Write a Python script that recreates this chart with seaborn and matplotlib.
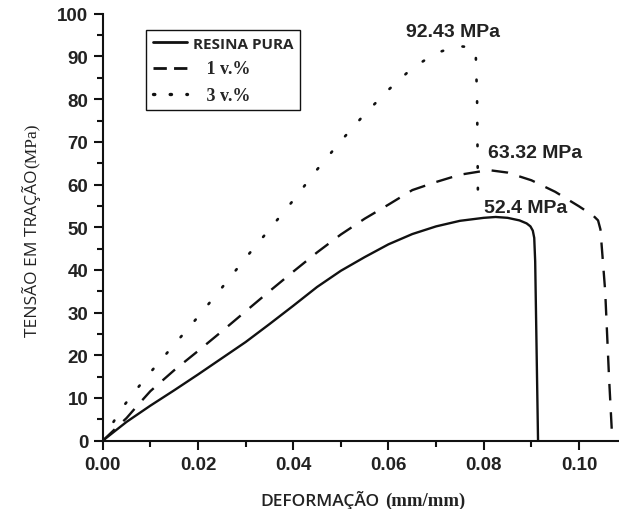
import matplotlib
matplotlib.use('Agg')
import matplotlib.pyplot as plt
import seaborn as sns
from matplotlib.lines import Line2D
from matplotlib.ticker import MultipleLocator, FormatStrFormatter

# curve vertices: strain (mm/mm), stress (MPa)
resina_x = [0.0, 0.005, 0.010, 0.015, 0.020, 0.025, 0.030, 0.035, 0.040, 0.045,
            0.050, 0.055, 0.060, 0.065, 0.070, 0.075, 0.080, 0.0825, 0.085, 0.0875,
            0.0890, 0.0898, 0.0903, 0.0906, 0.0908, 0.0914]
resina_y = [0.0, 4.4, 8.2, 11.8, 15.5, 19.3, 23.1, 27.3, 31.6, 36.0,
            39.8, 43.0, 46.0, 48.4, 50.2, 51.5, 52.2, 52.4, 52.2, 51.6,
            50.9, 50.2, 49.2, 47.5, 42.0, 0.0]

v1_x = [0.0, 0.005, 0.0075, 0.010, 0.015, 0.020, 0.025, 0.030, 0.035, 0.040, 0.045,
        0.050, 0.055, 0.060, 0.065, 0.070, 0.075, 0.080, 0.0815, 0.085, 0.090,
        0.095, 0.100, 0.1030, 0.1040, 0.1045, 0.1055, 0.1063, 0.1070]
v1_y = [0.0, 5.3, 8.5, 11.6, 16.5, 21.0, 25.6, 30.3, 35.0, 39.6, 44.1,
        48.3, 52.0, 55.3, 58.7, 60.6, 62.3, 63.2, 63.32, 62.8, 61.0,
        58.3, 54.9, 52.7, 51.6, 49.5, 35.0, 15.0, 0.0]

v3_x = [0.0, 0.0022, 0.0043, 0.0070, 0.010, 0.015, 0.020, 0.025, 0.030, 0.035,
        0.040, 0.045, 0.050, 0.055, 0.060, 0.065, 0.070, 0.0745, 0.0770, 0.0783,
        0.0786, 0.0788]
v3_y = [0.0, 4.3, 8.0, 11.9, 16.0, 22.5, 29.0, 35.8, 42.8, 49.5,
        56.3, 63.5, 70.2, 76.5, 82.2, 87.3, 90.8, 92.43, 92.2, 91.4,
        80.0, 55.0]

labels = ['RESINA PURA', '1 v.%', '3 v.%']
peaks = ['52.4 MPa', '63.32 MPa', '92.43 MPa']
peak_pos = [(0.0800, 53.5), (0.0808, 66.4), (0.0636, 94.9)]

sns.set_style('ticks')
fig = plt.figure(figsize=(6.19, 5.10), dpi=100)
ax = fig.add_axes([0.166, 0.134, 0.834, 0.837])

ink = '#111111'
dash = (0, (7.0, 5.0))
dot = (0, (0.6, 7.6))
sns.lineplot(x=resina_x, y=resina_y, ax=ax, color=ink, lw=1.7, sort=False,
             estimator=None)
sns.lineplot(x=v1_x, y=v1_y, ax=ax, color=ink, lw=1.7, sort=False, estimator=None,
             linestyle=dash)
sns.lineplot(x=v3_x, y=v3_y, ax=ax, color=ink, lw=1.9, sort=False, estimator=None,
             linestyle=dot, dash_capstyle='round')

ax.set_xlim(0, 0.1084)
ax.set_ylim(0, 100)
ax.xaxis.set_major_locator(MultipleLocator(0.02))
ax.xaxis.set_minor_locator(MultipleLocator(0.01))
ax.yaxis.set_major_locator(MultipleLocator(10))
ax.yaxis.set_minor_locator(MultipleLocator(5))
ax.xaxis.set_major_formatter(FormatStrFormatter('%.2f'))
sns.despine(ax=ax)
for s in ['left', 'bottom']:
    ax.spines[s].set_linewidth(1.5)
    ax.spines[s].set_color(ink)
ax.tick_params(which='major', direction='out', length=6.5, width=1.5, color=ink)
ax.tick_params(which='minor', direction='out', length=4, width=1.5, color=ink)
ax.tick_params(axis='x', which='major', pad=4.5)
ax.tick_params(axis='y', which='major', pad=4)
for t in ax.get_xticklabels() + ax.get_yticklabels():
    t.set_fontfamily('Liberation Sans')
    t.set_fontweight('bold')
    t.set_fontsize(13.5)
    t.set_color('#222222')
ax.set_xlabel('')
ax.set_ylabel('')

for txt, (px, py) in zip(peaks, peak_pos):
    ax.text(px, py, txt, ha='left', va='baseline', fontsize=14, fontweight='bold',
            family='Liberation Sans', color='#222222')

# legend keys drawn like the reference's short keys
handles = [Line2D([], [], color=ink, lw=2.0),
           Line2D([], [], color=ink, lw=2.0, linestyle=(0, (4.8, 2.6))),
           Line2D([], [], color=ink, lw=2.4, linestyle=(0, (0.4, 4.6)),
                  dash_capstyle='round')]
leg = ax.legend(handles, [labels[0], '   ' + labels[1], '   ' + labels[2]],
                loc='upper left', bbox_to_anchor=(0.084, 0.9625), borderaxespad=0,
                fancybox=False, framealpha=1, edgecolor=ink, handlelength=2.2,
                handletextpad=0.4, labelspacing=0.62, borderpad=0.45,
                prop={'family': 'Open Sans', 'weight': 'bold', 'size': 11})
leg.get_frame().set_linewidth(1.0)
for t in leg.get_texts()[1:]:
    t.set_fontfamily('Liberation Serif')
    t.set_fontsize(13)

# axis titles mix a sans part with a serif unit part
xl1 = fig.text(0.42, 0.008, 'DEFORMAÇÃO', ha='left', va='baseline', fontsize=12.5,
               family='Open Sans', fontweight='semibold', color='#222222')
yl1 = fig.text(0.06, 0.339, 'TENSÃO EM TRAÇÃO', rotation=90, rotation_mode='anchor',
               ha='left', va='baseline', fontsize=12.5, family='Open Sans',
               color='#222222')
fig.canvas.draw()
r = fig.canvas.get_renderer()
W, H = fig.bbox.width, fig.bbox.height
bx = xl1.get_window_extent(r)
fig.text((bx.x1 + 6) / W, 0.008, '(mm/mm)', ha='left', va='baseline', fontsize=13.5,
         family='Liberation Serif', fontweight='bold', color='#222222')
by = yl1.get_window_extent(r)
fig.text(0.06, (by.y1 + 2) / H, '(MPa)', rotation=90, rotation_mode='anchor',
         ha='left', va='baseline', fontsize=12.5, family='Liberation Serif',
         color='#222222')

fig.savefig('out.png', dpi=100)
